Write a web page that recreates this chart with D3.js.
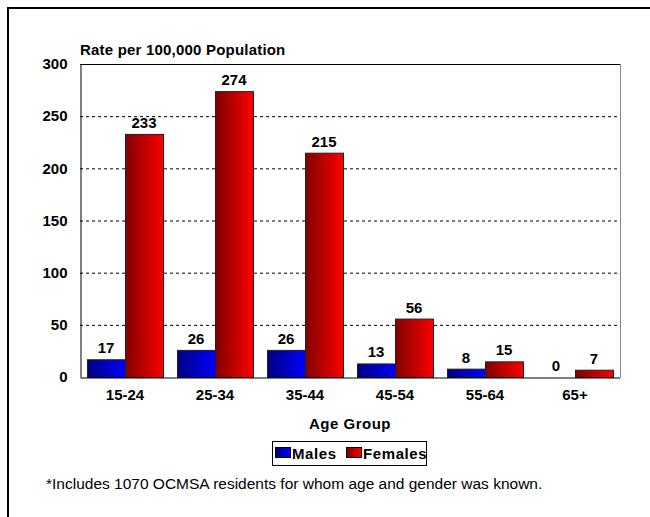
<!DOCTYPE html>
<html>
<head>
<meta charset="UTF-8">
<script src="https://d3js.org/d3.v7.min.js"></script>
<style>
    body{ margin: 0; background: #fff; }
    text{ font-family: "Liberation Sans", Arial, sans-serif; }
</style>
</head>
<body>
<div id="chart"></div>
<script>
    const groups = ['15-24', '25-34', '35-44', '45-54', '55-64', '65+']
    const males = [17, 26, 26, 13, 8, 0]
    const females = [233, 274, 215, 56, 15, 7]
    const yTicks = [0, 50, 100, 150, 200, 250, 300]
    const series = ['Males', 'Females']

    const W = 650, H = 517
    const m = {left: 80, top: 64, right: 620, bottom: 377}

    const svg = d3.select('#chart').append('svg')
        .attr('width', W).attr('height', H)

    const defs = svg.append('defs')
    const grads = [['gMale', '#000080', '#0000ff'], ['gFemale', '#800000', '#ff0000']]
    grads.forEach(g => {
        const lg = defs.append('linearGradient').attr('id', g[0])
            .attr('x1', 0).attr('x2', 1).attr('y1', 0).attr('y2', 0)
        lg.append('stop').attr('offset', 0).attr('stop-color', g[1])
        lg.append('stop').attr('offset', 1).attr('stop-color', g[2])
    })

    // outer frame
    svg.append('rect').attr('x', 8).attr('y', 8).attr('width', 700).attr('height', 600)
        .attr('fill', 'none').attr('stroke', '#000').attr('stroke-width', 2)

    const x0 = d3.scaleBand().domain(groups).range([m.left, m.right]).paddingInner(14 / 90).paddingOuter(7 / 90)
    const x1 = d3.scaleBand().domain(series).range([0, x0.bandwidth()])
    const y = d3.scaleLinear().domain([0, 300]).range([m.bottom, m.top])

    // gridlines
    svg.append('g').selectAll('line')
        .data(yTicks.filter(d => d > 0 && d < 300))
        .enter().append('line')
        .attr('x1', m.left).attr('x2', m.right)
        .attr('y1', d => y(d) + 0.5).attr('y2', d => y(d) + 0.5)
        .attr('stroke', '#000').attr('stroke-dasharray', '3,3')

    // plot frame
    svg.append('line').attr('x1', m.left).attr('x2', m.right).attr('y1', m.top + 0.5).attr('y2', m.top + 0.5).attr('stroke', '#000')
    svg.append('line').attr('x1', m.right + 0.5).attr('x2', m.right + 0.5).attr('y1', m.top).attr('y2', m.bottom).attr('stroke', '#888')

    const rows = groups.map((g, i) => ({g: g, vals: [males[i], females[i]]}))
    const gg = svg.append('g').selectAll('g').data(rows).enter().append('g')
        .attr('transform', d => `translate(${x0(d.g)},0)`)

    gg.selectAll('rect')
        .data(d => d.vals.map((v, j) => ({s: series[j], v: v})))
        .enter().append('rect')
        .filter(d => d.v > 0)
        .attr('x', d => x1(d.s) + 0.5)
        .attr('width', x1.bandwidth())
        .attr('y', d => y(d.v) + 0.5)
        .attr('height', d => y(0) - y(d.v))
        .attr('fill', d => d.s == 'Males' ? 'url(#gMale)' : 'url(#gFemale)')
        .attr('stroke', '#222').attr('stroke-width', 1)

    gg.selectAll('text')
        .data(d => d.vals.map((v, j) => ({s: series[j], v: v})))
        .enter().append('text')
        .attr('x', d => x1(d.s) + x1.bandwidth() / 2)
        .attr('y', d => y(d.v) - 6)
        .attr('text-anchor', 'middle')
        .style('font-size', '15px').style('font-weight', 'bold')
        .text(d => d.v)

    // axes
    const yAxis = d3.axisLeft(y).tickValues(yTicks).tickSize(0).tickPadding(13)
    const ya = svg.append('g').attr('transform', `translate(${m.left + 0.5},0)`).call(yAxis)
    ya.select('.domain').attr('stroke', '#000')
    ya.selectAll('text').style('font-size', '15px').style('font-weight', 'bold').attr('fill', '#000')

    const xAxis = d3.axisBottom(x0).tickSize(0).tickPadding(12)
    const xa = svg.append('g').attr('transform', `translate(0,${m.bottom + 0.5})`).call(xAxis)
    xa.select('.domain').attr('stroke', '#000')
    xa.selectAll('text').style('font-size', '15px').style('font-weight', 'bold').attr('fill', '#000')

    svg.append('text').attr('x', m.left).attr('y', 55)
        .style('font-size', '15px').style('font-weight', 'bold').style('letter-spacing', '0.2px')
        .text('Rate per 100,000 Population')

    svg.append('text').attr('x', 350).attr('y', 429).attr('text-anchor', 'middle')
        .style('font-size', '15px').style('font-weight', 'bold').style('letter-spacing', '0.5px')
        .text('Age Group')

    // legend
    const lg = svg.append('g')
    lg.append('rect').attr('x', 272.5).attr('y', 441.5).attr('width', 154).attr('height', 24)
        .attr('fill', '#fff').attr('stroke', '#000')
    const items = [{s: 'Males', x: 275, f: 'url(#gMale)'}, {s: 'Females', x: 346, f: 'url(#gFemale)'}]
    lg.selectAll('.sw').data(items).enter().append('rect')
        .attr('x', d => d.x + 0.5).attr('y', 447.5).attr('width', 15).attr('height', 10)
        .attr('fill', d => d.f).attr('stroke', '#000')
    lg.selectAll('.lt').data(items).enter().append('text')
        .attr('x', d => d.x + 17).attr('y', 459)
        .style('font-size', '15px').style('font-weight', 'bold').style('letter-spacing', '0.6px')
        .text(d => d.s)

    svg.append('text').attr('x', 46).attr('y', 489)
        .style('font-size', '15.5px')
        .text('*Includes 1070 OCMSA residents for whom age and gender was known.')
</script>
</body>
</html>
